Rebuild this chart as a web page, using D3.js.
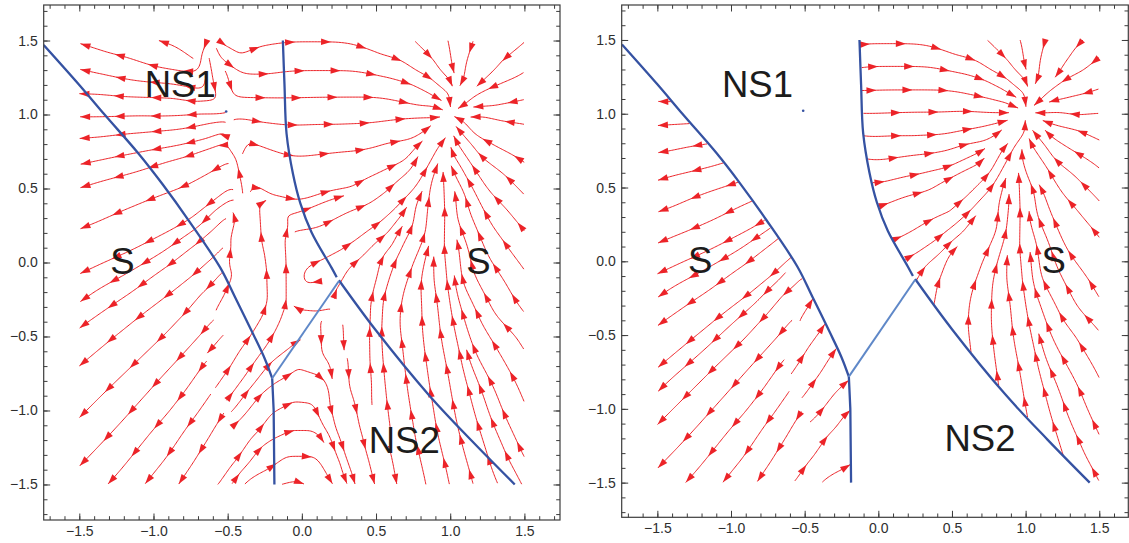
<!DOCTYPE html>
<html>
<head>
<meta charset="utf-8">
<script src="https://cdn.jsdelivr.net/npm/d3@7"></script>
<style>
  body { margin: 0; background: #fff; }
  svg { display: block; }
</style>
</head>
<body>
<div id="chart"></div>
<script>
/* CONSTANTS AND GLOBALS */
const width = 1129;
const height = 543;

/* DATA */
// axis ticks
const majorTicks = [-1.5, -1, -0.5, 0, 0.5, 1, 1.5];
const majorLabels = ["\u22121.5", "\u22121.0", "\u22120.5", "0.0", "0.5", "1.0", "1.5"];
const minorTicks = d3.range(-17, 18).map(i => i / 10);

// region boundaries (x, y)
const boundaryA = [[-1.74, 1.47], [-1.50, 1.20], [-1.33, 1.00], [-1.10, 0.735], [-0.94, 0.53],
  [-0.76, 0.28], [-0.55, -0.035], [-0.45, -0.235], [-0.33, -0.48], [-0.25, -0.65], [-0.20, -0.782]];
const boundaryAStem = [[-0.20, -0.782], [-0.19, -1.0], [-0.185, -1.5]];
const boundaryBUpper = [[-0.128, 1.5], [-0.117, 1.2], [-0.103, 0.87], [-0.06, 0.6], [-0.01, 0.4],
  [0.065, 0.205], [0.2, -0.035], [0.235, -0.10]];
const boundaryBLower = [[0.25, -0.12], [0.50, -0.46], [0.86, -0.90], [1.15, -1.21], [1.435, -1.5]];
const bridge = [[-0.20, -0.782], [0.25, -0.125]];
const saddlePoint = [-0.51, 1.02];

// region names (x, baseline y)
const regionLabels = [
  { text: "NS1", x: -0.82, y: 1.115 },
  { text: "S", x: -1.21, y: -0.08 },
  { text: "S", x: 1.19, y: -0.08 },
  { text: "NS2", x: 0.69, y: -1.284 }
];

// flow direction read at arrows of the left panel: [x, y, angle in degrees]
const flowSamples = [
  [-1.40, 1.44, 162], [-1.08, 1.45, 160], [-0.74, 1.43, 144], [-0.62, 1.39, 281], [-0.56, 1.20, 282],
  [-0.48, 1.42, 330], [-0.37, 1.47, 24], [-1.32, 1.29, 168], [-0.78, 1.16, 169], [-1.45, 1.05, 179],
  [-1.02, 1.04, 178], [-0.64, 1.03, 180], [-1.45, 0.87, 184], [-1.02, 0.90, 185], [-0.66, 0.90, 192],
  [-1.36, 0.71, 192], [-1.00, 0.61, 198], [-1.45, 0.47, 197], [-0.60, 0.82, 200], [-0.60, 0.65, 210],
  [-1.32, 0.34, 204], [-0.60, 0.45, 218], [-0.60, 0.28, 225], [-1.00, 0.25, 207], [-1.36, 0.14, 202],
  [-0.80, 0.05, 218], [-0.59, 0.10, 226], [-0.60, -0.10, 228], [-0.61, -0.50, 230], [-0.63, -1.00, 235],
  [-0.65, -1.45, 238],
  [-0.44, 0.84, 100], [-0.37, 0.60, 102], [-0.31, 0.26, 93], [-0.42, 0.21, 74], [-0.42, 0.06, 75],
  [-0.20, 0.10, 107], [-0.20, 0.015, 98], [-0.23, -0.17, 92], [-0.13, -0.19, 90], [-0.175, 0.30, 125],
  [-0.49, -0.30, 58], [-0.51, -0.80, 55], [-0.25, -0.45, 58], [-0.12, -0.45, 65], [-0.30, -0.75, 52],
  [-0.35, 1.045, 0], [-0.35, 0.91, 346], [-0.26, 0.78, 340], [-0.24, 0.66, 335], [-0.22, 0.54, 325],
  [-0.13, 0.39, 345], [-0.20, 1.35, 10], [-0.25, 1.20, 0],
  [0.08, 1.41, 0], [0.19, 1.22, 0], [0.32, 1.05, 0], [0.19, 0.88, 0], [0.32, 0.89, 2], [0.30, 0.77, 5],
  [0.37, 0.67, 10], [0.26, 0.53, 10], [0.37, 0.41, 20], [0.03, 0.18, 7], [0.10, 0.07, 22],
  [0.44, 0.32, 24], [0.21, 0.10, 27], [0.32, 0.08, 34], [0.55, 0.15, 40], [0.53, 0.35, 42],
  [0.41, 0.51, 30], [0.59, 0.67, 25], [0.64, 0.84, 10], [0.66, 0.47, 45], [0.53, -0.07, 77],
  [0.64, -0.07, 70], [0.26, -0.14, 60], [0.64, 0.15, 62], [0.71, 0.09, 66], [0.80, 0.69, 61],
  [0.82, 0.31, 85], [0.96, 0.42, 92], [0.48, -0.35, 88], [0.40, -0.25, 80],
  [0.53, 1.34, 349], [0.68, 1.14, 348], [0.80, 1.23, 333], [0.53, 1.47, 336], [0.91, 1.22, 320],
  [0.80, 1.41, 315], [1.00, 1.39, 279], [1.18, 1.39, 251], [1.28, 1.40, 235], [1.42, 1.39, 219],
  [1.37, 1.21, 203], [1.38, 1.08, 191], [1.29, 0.93, 167], [1.37, 0.79, 153], [1.30, 0.68, 143],
  [1.38, 0.45, 135], [1.11, 0.71, 124], [1.40, 0.25, 130], [1.11, 0.56, 119], [1.15, 0.22, 113],
  [0.85, 1.02, 0], [1.15, 1.00, 182], [0.90, 0.88, 45], [1.08, 1.12, 225], [1.10, 0.90, 130],
  [0.90, 1.10, 330],
  [1.40, 0.00, 127], [1.20, -0.20, 118], [0.91, -0.21, 98], [0.98, -0.01, 95], [1.40, -0.43, 133],
  [1.38, -0.59, 121], [1.29, -0.68, 119], [1.42, -1.15, 115], [1.45, -1.40, 118], [1.20, -1.31, 107],
  [0.98, -0.66, 101], [0.84, -0.73, 98], [0.98, -1.31, 104], [0.95, -1.45, 102], [0.71, -0.77, 97],
  [0.80, -0.90, 100], [0.80, -1.29, 103], [0.66, -0.54, 97], [0.66, -0.80, 98], [0.68, -1.05, 100],
  [0.67, -1.41, 280], [0.53, -0.73, 95], [0.53, -0.98, 97], [0.53, -1.40, 282], [0.38, -0.54, 92],
  [0.44, -1.03, 280], [0.27, -0.52, 272], [0.27, -0.75, 272], [0.27, -1.04, 278], [0.35, -1.24, 282],
  [0.41, -1.46, 285], [0.12, -0.52, 272], [0.17, -0.93, 276],
  [0.03, -0.28, 175], [0.11, -0.22, 215],
  [-0.15, -1.46, 15], [0.09, -1.48, 330], [-0.17, -1.36, 35], [-0.01, -1.30, 0], [0.19, -1.40, 300],
  [-0.13, -1.15, 25], [-0.01, -1.12, 0], [0.23, -1.40, 285], [-0.13, -0.93, 30], [0.01, -0.90, 355],
  [0.12, -1.04, 295], [0.21, -1.25, 290], [-0.08, -0.72, 35], [0.03, -0.70, 340],
  [-0.37, -1.27, 56], [-0.24, -1.09, 53], [-0.40, -0.68, 60], [-0.16, -0.32, 70], [-0.37, -0.93, 53],
  [-0.42, -0.52, 54], [-0.43, -0.19, 60], [-0.50, -1.45, 55],
  [-0.70, -0.30, 230], [-1.45, 0.00, 205], [-1.45, -0.30, 215], [-1.45, -0.60, 220], [-1.45, -1.00, 225],
  [-1.45, -1.40, 226], [-1.00, -0.20, 217], [-1.00, -0.60, 224], [-1.00, -1.00, 228], [-1.00, -1.40, 231],
  [-0.80, -0.50, 228], [-0.80, -1.00, 232], [-0.80, -1.40, 236], [-0.70, -0.80, 235], [-0.70, -1.25, 238]
];

/* PANELS */
const panels = [
  { left: 43.7, right: 560, top: 5, bottom: 520, xDomain: [-1.74, 1.74], yDomain: [-1.74, 1.74], masked: false },
  { left: 621.7, right: 1128.3, top: 5, bottom: 517.3, xDomain: [-1.742, 1.697], yDomain: [-1.735, 1.737], masked: true }
];

const font = "'Liberation Sans', Arial, Helvetica, sans-serif";
const axisColor = "#3c3c3c";
const red = "#ec2328";

const svg = d3.select("#chart")
  .append("svg")
  .attr("width", width)
  .attr("height", height)
  .style("background-color", "white");

/* FIELD */
const samplesTrig = flowSamples.map(([x, y, a]) => [x, y, Math.cos(a * Math.PI / 180), Math.sin(a * Math.PI / 180)]);

function flowAt(x, y) {
  let sx = 0, sy = 0, sw = 0;
  for (const s of samplesTrig) {
    const d2 = (x - s[0]) ** 2 + (y - s[1]) ** 2 + 1e-4;
    const w = 1 / (d2 * Math.sqrt(d2));
    sx += w * s[2]; sy += w * s[3]; sw += w;
  }
  const m = Math.hypot(sx, sy);
  return { dx: sx / m, dy: sy / m, c: m / sw };
}

// x of a boundary (monotone in y) at height y
function boundaryX(pts, y) {
  if (y > pts[0][1]) return null;
  for (let i = 1; i < pts.length; i++) {
    const [x0, y0] = pts[i - 1], [x1, y1] = pts[i];
    if (y <= y0 && y >= y1) return x0 + (x1 - x0) * (y - y0) / (y1 - y0);
  }
  return pts[pts.length - 1][0];
}
const boundaryAFull = boundaryA.concat(boundaryAStem.slice(1));
const boundaryB = boundaryBUpper.concat(boundaryBLower);

function stableRegion(x, y) {
  const xa = boundaryX(boundaryAFull, y);
  const xb = boundaryX(boundaryB, y);
  return (xa !== null && x < xa) || (xb !== null && x > xb);
}

function makeStreams(xs, ys, masked) {
  const dsep = 23, dtest = 7.5, h = 1.5, minC = 0.28;
  const cell = dsep;
  const buckets = new Map();
  const lines = [];
  const key = (i, j) => i + ":" + j;

  const inside = (x, y) => Math.abs(x) <= 1.5 && Math.abs(y) <= 1.5 && (!masked || stableRegion(x, y));

  function addPts(pts) {
    for (const p of pts) {
      const k = key(Math.floor(p[0] / cell), Math.floor(p[1] / cell));
      if (!buckets.has(k)) buckets.set(k, []);
      buckets.get(k).push(p);
    }
  }
  function near(x, y, r) {
    const i0 = Math.floor(x / cell), j0 = Math.floor(y / cell), r2 = r * r;
    for (let i = i0 - 1; i <= i0 + 1; i++) {
      for (let j = j0 - 1; j <= j0 + 1; j++) {
        const b = buckets.get(key(i, j));
        if (!b) continue;
        for (const p of b) if ((p[0] - x) ** 2 + (p[1] - y) ** 2 < r2) return true;
      }
    }
    return false;
  }
  function dir(px, py) {
    const x = xs.invert(px), y = ys.invert(py);
    if (!inside(x, y)) return null;
    const f = flowAt(x, y);
    if (f.c < minC) return null;
    return [f.dx, -f.dy];
  }
  function trace(sx, sy, sign) {
    const pts = [];
    let x = sx, y = sy, prev = null;
    for (let n = 0; n < 700; n++) {
      const d1 = dir(x, y);
      if (!d1) break;
      const d2 = dir(x + sign * d1[0] * h / 2, y + sign * d1[1] * h / 2);
      if (!d2) break;
      if (prev && prev[0] * d2[0] + prev[1] * d2[1] < 0.5) break;
      const nx = x + sign * d2[0] * h, ny = y + sign * d2[1] * h;
      if (!inside(xs.invert(nx), ys.invert(ny))) break;
      if (near(nx, ny, dtest)) break;
      let loop = false;
      for (let k = 0; k < pts.length - 14; k++) {
        if ((pts[k][0] - nx) ** 2 + (pts[k][1] - ny) ** 2 < dtest * dtest) { loop = true; break; }
      }
      if (loop) break;
      x = nx; y = ny; prev = d2;
      pts.push([x, y]);
    }
    return pts;
  }

  const queue = [];
  function tryLine(sx, sy) {
    if (!dir(sx, sy) || near(sx, sy, dsep * 0.9)) return;
    const back = trace(sx, sy, -1);
    const fwd = trace(sx, sy, 1);
    const pts = back.reverse().concat([[sx, sy]], fwd);
    if (pts.length < 8) return;
    addPts(pts);
    lines.push(pts);
    queue.push(pts);
  }
  function drain() {
    while (queue.length) {
      const L = queue.shift();
      for (let i = 0; i < L.length; i += 5) {
        const a = L[Math.max(i - 1, 0)], b = L[Math.min(i + 1, L.length - 1)];
        const tl = Math.hypot(b[0] - a[0], b[1] - a[1]) || 1;
        const nx = -(b[1] - a[1]) / tl, ny = (b[0] - a[0]) / tl;
        tryLine(L[i][0] + nx * dsep, L[i][1] + ny * dsep);
        tryLine(L[i][0] - nx * dsep, L[i][1] - ny * dsep);
      }
    }
  }
  const px0 = xs(-1.5), px1 = xs(1.5), py0 = ys(1.5), py1 = ys(-1.5);
  for (let py = py0 + 4; py <= py1; py += dsep / 2) {
    for (let px = px0 + 4; px <= px1; px += dsep / 2) {
      tryLine(px, py);
      drain();
    }
  }
  return lines;
}

function arrowHeads(pts, spacing) {
  const cum = [0];
  for (let i = 1; i < pts.length; i++) {
    cum.push(cum[i - 1] + Math.hypot(pts[i][0] - pts[i - 1][0], pts[i][1] - pts[i - 1][1]));
  }
  const total = cum[cum.length - 1];
  const heads = [];
  let i = pts.length - 1;
  for (let s = total; s > 6; s -= spacing) {
    while (i > 0 && cum[i] > s) i--;
    const p = pts[Math.min(i + 1, pts.length - 1)];
    const q = pts[Math.max(i - 4, 0)];
    const l = Math.hypot(p[0] - q[0], p[1] - q[1]) || 1;
    const ux = (p[0] - q[0]) / l, uy = (p[1] - q[1]) / l;
    const bx = p[0] - ux * 10, by = p[1] - uy * 10;
    heads.push([[p[0], p[1]], [bx - uy * 3.3, by + ux * 3.3], [bx + uy * 3.3, by - ux * 3.3]]);
  }
  return heads;
}

/* DRAW */
panels.forEach((p, pi) => {
  const xScale = d3.scaleLinear().domain(p.xDomain).range([p.left, p.right]);
  const yScale = d3.scaleLinear().domain(p.yDomain).range([p.bottom, p.top]);
  const g = svg.append("g");

  // stream lines
  const clipId = "clip" + pi;
  g.append("clipPath").attr("id", clipId)
    .append("rect")
    .attr("x", p.left).attr("y", p.top)
    .attr("width", p.right - p.left).attr("height", p.bottom - p.top);

  const streams = makeStreams(xScale, yScale, p.masked);
  const sg = g.append("g").attr("clip-path", `url(#${clipId})`);
  sg.selectAll(".stream")
    .data(streams)
    .join("path")
    .attr("class", "stream")
    .attr("d", d3.line())
    .attr("fill", "none")
    .attr("stroke", red)
    .attr("stroke-width", 1);
  sg.selectAll(".head")
    .data(streams.flatMap(s => arrowHeads(s, 36)))
    .join("path")
    .attr("class", "head")
    .attr("d", d => "M" + d.map(q => q.join(",")).join("L") + "Z")
    .attr("fill", red);

  // boundaries
  const smooth = d3.line().x(d => xScale(d[0])).y(d => yScale(d[1])).curve(d3.curveCatmullRom);
  const straight = d3.line().x(d => xScale(d[0])).y(d => yScale(d[1]));
  const blue = "#3552a2";
  sg.append("path").attr("d", smooth(boundaryA)).attr("fill", "none")
    .attr("stroke", blue).attr("stroke-width", 2.3);
  sg.append("path").attr("d", straight(boundaryAStem)).attr("fill", "none")
    .attr("stroke", blue).attr("stroke-width", 2.3);
  sg.append("path").attr("d", smooth(boundaryBUpper)).attr("fill", "none")
    .attr("stroke", blue).attr("stroke-width", 2.3);
  sg.append("path").attr("d", smooth(boundaryBLower)).attr("fill", "none")
    .attr("stroke", blue).attr("stroke-width", 2.3);
  sg.append("path").attr("d", straight(bridge)).attr("fill", "none")
    .attr("stroke", "#5f88c8").attr("stroke-width", 2);
  sg.append("circle")
    .attr("cx", xScale(saddlePoint[0])).attr("cy", yScale(saddlePoint[1]))
    .attr("r", 1.3).attr("fill", blue);

  // region labels
  sg.selectAll(".region")
    .data(regionLabels)
    .join("text")
    .attr("class", "region")
    .attr("x", d => xScale(d.x))
    .attr("y", d => yScale(d.y))
    .attr("text-anchor", "middle")
    .attr("font-family", font)
    .attr("font-size", 36.5)
    .attr("fill", "#1c1c1c")
    .text(d => d.text);

  // frame and ticks
  g.append("rect")
    .attr("x", p.left).attr("y", p.top)
    .attr("width", p.right - p.left).attr("height", p.bottom - p.top)
    .attr("fill", "none").attr("stroke", axisColor).attr("stroke-width", 1.2);

  const axes = [
    [d3.axisBottom(xScale), `translate(0,${p.bottom})`, true],
    [d3.axisTop(xScale), `translate(0,${p.top})`, false],
    [d3.axisLeft(yScale), `translate(${p.left},0)`, true],
    [d3.axisRight(yScale), `translate(${p.right},0)`, false]
  ];
  axes.forEach(([axis, tr, labelled]) => {
    g.append("g").attr("transform", tr)
      .call(axis.tickValues(minorTicks).tickSizeInner(-3.8).tickSizeOuter(0).tickFormat(""));
    g.append("g").attr("transform", tr)
      .call(axis.tickValues(majorTicks).tickSizeInner(-6.5).tickSizeOuter(0).tickPadding(6)
        .tickFormat((d, i) => labelled ? majorLabels[i] : ""));
  });
  g.selectAll(".domain").remove();
  g.selectAll(".tick line").attr("stroke", axisColor).attr("stroke-width", 1);
  g.selectAll(".tick text")
    .attr("font-family", font)
    .attr("font-size", 14)
    .attr("fill", "#2e2e2e");
});
</script>
</body>
</html>
